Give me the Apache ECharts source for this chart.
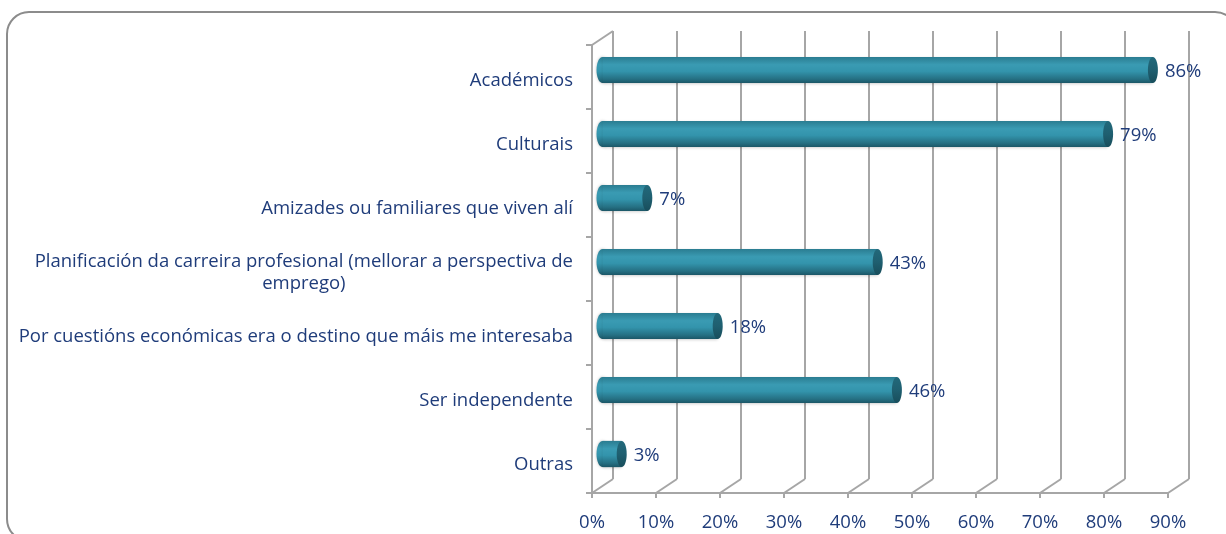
<!DOCTYPE html>
<html>
<head>
<meta charset="utf-8">
<script src="https://cdn.jsdelivr.net/npm/echarts@6/dist/echarts.min.js"></script>
<style>
  html, body { margin: 0; padding: 0; background: #fff; }
  #chart { width: 1226px; height: 534px; }
</style>
</head>
<body>
<div id="chart"></div>
<script>
// data
const categories = [
  "Académicos",
  "Culturais",
  "Amizades ou familiares que viven alí",
  "Planificación da carreira profesional (mellorar a perspectiva de\nemprego)",
  "Por cuestións económicas era o destino que máis me interesaba",
  "Ser independente",
  "Outras"
];
const values = [86, 79, 7, 43, 18, 46, 3];
const xTicks = [0, 10, 20, 30, 40, 50, 60, 70, 80, 90];

const textColor = "#1F3C7A";
const gridColor = "#a6a6a6";
const font = "Open Sans";
const fontSize = 18.5;

// 3D offset of the back wall
const depthX = 21;
const depthY = 14;

const chart = echarts.init(document.getElementById("chart"));

// cylinder body colour
const bodyGrad = () => new echarts.graphic.LinearGradient(0, 0, 0, 1, [
  { offset: 0, color: "#2a7c90" },
  { offset: 0.3, color: "#3a9bb3" },
  { offset: 0.55, color: "#3394ac" },
  { offset: 0.85, color: "#256f82" },
  { offset: 1, color: "#1b5666" }
]);
const capGrad = () => new echarts.graphic.LinearGradient(0, 0, 0, 1, [
  { offset: 0, color: "#22697b" },
  { offset: 0.5, color: "#1f5f70" },
  { offset: 1, color: "#184d5b" }
]);

const renderBar = (params, api) => {
  const v = api.value(0);
  const c = api.value(1);
  const p0 = api.coord([0, c]);
  const p1 = api.coord([v, c]);
  const h = api.size([0, 1])[1] * 0.41;
  return {
    type: "group",
    children: [
      {
        type: "ellipse",
        shape: { cx: p0[0], cy: p0[1], rx: 6, ry: h / 2 },
        style: { fill: bodyGrad(), shadowBlur: 3, shadowColor: "rgba(0,0,0,0.25)" }
      },
      {
        type: "rect",
        shape: { x: p0[0], y: p0[1] - h / 2, width: p1[0] - p0[0], height: h },
        style: { fill: bodyGrad(), shadowBlur: 3, shadowColor: "rgba(0,0,0,0.25)", shadowOffsetY: 1 }
      },
      {
        type: "ellipse",
        shape: { cx: p1[0], cy: p1[1], rx: 5, ry: h / 2 },
        style: { fill: capGrad() }
      },
      {
        type: "text",
        style: {
          text: v + "%",
          x: p1[0] + 12,
          y: p1[1] + 2,
          verticalAlign: "middle",
          fill: textColor,
          font: fontSize + "px '" + font + "'"
        }
      }
    ]
  };
};

// floor diagonals and the top edge of the left wall
const renderDepth = (params, api) => {
  const t = api.value(0);
  const cs = params.coordSys;
  const bottom = cs.y + cs.height;
  const x = api.coord([t, 0])[0];
  const lineStyle = { stroke: gridColor, lineWidth: 2, fill: null };
  const children = [
    { type: "line", shape: { x1: x, y1: bottom, x2: x + depthX, y2: bottom - depthY }, style: lineStyle }
  ];
  if (t === 0) {
    children.push({
      type: "line",
      shape: { x1: cs.x, y1: cs.y, x2: cs.x + depthX, y2: cs.y - depthY },
      style: lineStyle
    });
  }
  return { type: "group", children };
};

const frontLeft = 592, frontTop = 45, plotW = 576, plotH = 448;

const option = {
  animation: false,
  backgroundColor: "#fff",
  textStyle: { fontFamily: font },
  graphic: [
    {
      type: "rect",
      shape: { x: 7, y: 12, width: 1230, height: 529, r: 22 },
      style: { fill: null, stroke: "#8c8c8c", lineWidth: 2 },
      silent: true
    }
  ],
  grid: [
    // back wall
    { left: frontLeft + depthX, top: frontTop - depthY, width: plotW, height: plotH },
    // front plane (axes)
    { left: frontLeft, top: frontTop, width: plotW, height: plotH },
    // bars, mid depth
    { left: frontLeft + depthX / 2, top: frontTop - depthY / 2, width: plotW, height: plotH }
  ],
  xAxis: [
    {
      gridIndex: 0, type: "value", min: 0, max: 90, interval: 10,
      axisLine: { show: false }, axisTick: { show: false }, axisLabel: { show: false },
      splitLine: { show: true, lineStyle: { color: gridColor, width: 2 } }
    },
    {
      gridIndex: 1, type: "value", min: 0, max: 90, interval: 10,
      axisLine: { show: true, lineStyle: { color: gridColor, width: 2 } },
      axisTick: { show: true, length: 5, lineStyle: { color: gridColor, width: 2 } },
      axisLabel: { color: textColor, fontSize: fontSize, margin: 20, formatter: "{value}%" },
      splitLine: { show: false }
    },
    {
      gridIndex: 2, type: "value", min: 0, max: 90, show: false
    }
  ],
  yAxis: [
    {
      gridIndex: 0, type: "category", data: categories, inverse: true, show: false
    },
    {
      gridIndex: 1, type: "category", data: categories, inverse: true,
      axisLine: { show: true, lineStyle: { color: gridColor, width: 2 } },
      axisTick: { show: true, length: 6, lineStyle: { color: gridColor, width: 2 } },
      axisLabel: {
        color: textColor, fontSize: fontSize, margin: 19, lineHeight: 22, padding: [8, 0, 0, 0],
        formatter: v => v.split("\n").map(s => "{c|" + s + "}").join("\n"),
        rich: { c: { align: "center", color: textColor, fontSize: fontSize, fontFamily: font, lineHeight: 22 } }
      }
    },
    {
      gridIndex: 2, type: "category", data: categories, inverse: true, show: false
    }
  ],
  series: [
    {
      type: "custom",
      xAxisIndex: 1, yAxisIndex: 1,
      renderItem: renderDepth,
      data: xTicks.map(t => [t, 0]),
      silent: true
    },
    {
      type: "custom",
      xAxisIndex: 2, yAxisIndex: 2,
      renderItem: renderBar,
      encode: { x: 0, y: 1 },
      data: values.map((v, i) => [v, i]),
      z: 5
    }
  ]
};

chart.setOption(option);
</script>
</body>
</html>
